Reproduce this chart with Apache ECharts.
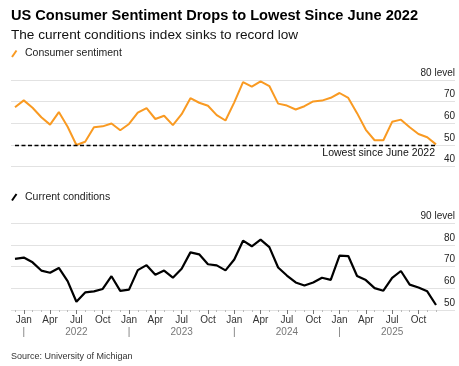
<!DOCTYPE html>
<html><head><meta charset="utf-8">
<script src="https://cdn.jsdelivr.net/npm/echarts@6/dist/echarts.min.js"></script>
<style>html,body{margin:0;padding:0;background:#fff}#c{width:459px;height:366px}</style>
</head><body><div id="c"></div>
<script>
// Plot positions (month-end dating: each reading is plotted at the start of the following month)
const months = [
  '2021-12',
  '2022-01','2022-02','2022-03','2022-04','2022-05','2022-06','2022-07','2022-08','2022-09','2022-10','2022-11','2022-12',
  '2023-01','2023-02','2023-03','2023-04','2023-05','2023-06','2023-07','2023-08','2023-09','2023-10','2023-11','2023-12',
  '2024-01','2024-02','2024-03','2024-04','2024-05','2024-06','2024-07','2024-08','2024-09','2024-10','2024-11','2024-12',
  '2025-01','2025-02','2025-03','2025-04','2025-05','2025-06','2025-07','2025-08','2025-09','2025-10','2025-11','2025-12'
];
// Consumer sentiment readings Nov 2021 .. Nov 2025
const sentiment = [
  67.4, 70.6,
  67.2, 62.8, 59.4, 65.2, 58.4, 50.0, 51.5, 58.2, 58.6, 59.9, 56.8, 59.7,
  64.9, 67.0, 62.0, 63.5, 59.2, 64.2, 71.6, 69.5, 68.1, 63.8, 61.3, 69.7,
  79.0, 76.9, 79.4, 77.2, 69.1, 68.2, 66.4, 67.9, 70.1, 70.5, 71.8, 74.0,
  71.7, 64.7, 57.0, 52.2, 52.2, 60.7, 61.7, 58.2, 55.1, 53.6, 50.3
];
// Current conditions readings Nov 2021 .. Nov 2025
const currentConditions = [
  73.6, 74.2,
  72.0, 68.2, 67.2, 69.4, 63.3, 53.8, 58.1, 58.6, 59.7, 65.6, 58.8, 59.4,
  68.4, 70.7, 66.3, 68.2, 64.9, 69.0, 76.6, 75.7, 71.1, 70.6, 68.3, 73.3,
  82.0, 79.4, 82.5, 79.0, 69.6, 65.9, 62.7, 61.3, 62.7, 64.9, 63.9, 75.1,
  74.9, 65.7, 63.8, 60.1, 58.9, 64.8, 68.0, 61.7, 60.4, 58.6, 52.3
];
const quarterLabels = {'01':'Jan','04':'Apr','07':'Jul','10':'Oct'};
const sentimentAxis = {min: 40, max: 80, step: 10, topLabel: '80 level'};
const conditionsAxis = {min: 50, max: 90, step: 10, topLabel: '90 level'};
const lowestLevel = 50;
const lowestLabel = 'Lowest since June 2022';

const ORANGE = '#f99a22';
const FONT = '"Liberation Sans", Arial, sans-serif';
const chart = echarts.init(document.getElementById('c'), null, {renderer: 'canvas'});

const wideGrid = (top) => ({left: 11, right: 4, top: top, height: 86.67});
const dataGrid = (top) => ({left: 15, right: 23, top: top, height: 86.67});

function labelAxis(gridIndex, ax) {
  return {
    gridIndex, type: 'value', position: 'right', min: ax.min, max: ax.max, interval: ax.step,
    axisLine: {show: false}, axisTick: {show: false},
    splitLine: {show: true, lineStyle: {color: '#e2e2e2', width: 1.2}},
    axisLabel: {
      inside: true, margin: 0, verticalAlign: 'bottom', padding: [0, 0, 2, 0],
      fontSize: 10, fontFamily: FONT, color: '#222',
      formatter: v => v === ax.max ? ax.topLabel : String(v)
    }
  };
}
function hiddenY(gridIndex, ax) {
  return {gridIndex, type: 'value', min: ax.min, max: ax.max, show: false};
}
const mon = m => m.slice(5);

const option = {
  animation: false,
  backgroundColor: '#fff',
  grid: [wideGrid(80), dataGrid(80), wideGrid(223.33), dataGrid(223.33)],
  xAxis: [
    {gridIndex: 0, type: 'value', min: 0, max: 1, show: false},
    {gridIndex: 1, type: 'category', data: months, boundaryGap: false, show: false},
    {gridIndex: 2, type: 'value', min: 0, max: 1, show: false},
    {gridIndex: 3, type: 'category', position: 'bottom', data: months, boundaryGap: false,
      axisLine: {show: false},
      axisTick: {show: true, interval: 0, length: 2, lineStyle: {color: '#bbb'}},
      axisLabel: {interval: (i, v) => !!quarterLabels[mon(v)], formatter: v => quarterLabels[mon(v)] || '',
        margin: 5, fontSize: 10, fontFamily: FONT, color: '#333'}},
    {gridIndex: 3, type: 'category', position: 'bottom', offset: 0, data: months, boundaryGap: false,
      axisLine: {show: false},
      axisTick: {show: true, interval: (i, v) => !!quarterLabels[mon(v)], length: 4, lineStyle: {color: '#777'}},
      axisLabel: {show: false}},
    {gridIndex: 3, type: 'category', position: 'bottom', data: months, boundaryGap: false, offset: 12,
      axisLine: {show: false}, axisTick: {show: false},
      axisLabel: {interval: (i, v) => mon(v) === '01' || mon(v) === '07',
        formatter: v => mon(v) === '01' ? '|' : (mon(v) === '07' ? v.slice(0, 4) : ''),
        margin: 5, fontSize: 10, fontFamily: FONT, color: '#777'}}
  ],
  yAxis: [
    labelAxis(0, sentimentAxis), hiddenY(1, sentimentAxis),
    labelAxis(2, conditionsAxis), hiddenY(3, conditionsAxis)
  ],
  series: [
    {type: 'line', name: 'Consumer sentiment', xAxisIndex: 1, yAxisIndex: 1, data: sentiment,
      symbol: 'none', lineStyle: {color: ORANGE, width: 2}, itemStyle: {color: ORANGE}, z: 3,
      markLine: {silent: true, symbol: 'none', data: [{yAxis: lowestLevel}],
        lineStyle: {color: '#000', type: [4, 2.5], width: 1.3},
        label: {show: true, position: 'insideEndBottom', formatter: lowestLabel, distance: [1, 3],
          fontSize: 10.5, fontFamily: FONT, color: '#111'}}},
    {type: 'line', name: 'Current conditions', xAxisIndex: 3, yAxisIndex: 3, data: currentConditions,
      symbol: 'none', lineStyle: {color: '#000', width: 2.2}, itemStyle: {color: '#000'}, z: 3}
  ],
  graphic: [
    {type: 'text', x: 11, y: 16, style: {text: 'US Consumer Sentiment Drops to Lowest Since June 2022',
      fontSize: 14.6, fontWeight: 'bold', fontFamily: FONT, fill: '#000', verticalAlign: 'middle'}},
    {type: 'text', x: 11, y: 35.5, style: {text: 'The current conditions index sinks to record low',
      fontSize: 13.6, fontFamily: FONT, fill: '#111', verticalAlign: 'middle'}},
    {type: 'line', shape: {x1: 12, y1: 57, x2: 16.5, y2: 50.5}, style: {stroke: ORANGE, lineWidth: 2}},
    {type: 'text', x: 25, y: 53.5, style: {text: 'Consumer sentiment',
      fontSize: 10.5, fontFamily: FONT, fill: '#222', verticalAlign: 'middle'}},
    {type: 'line', shape: {x1: 12, y1: 200.5, x2: 16.5, y2: 194}, style: {stroke: '#000', lineWidth: 2}},
    {type: 'text', x: 25, y: 197, style: {text: 'Current conditions',
      fontSize: 10.5, fontFamily: FONT, fill: '#222', verticalAlign: 'middle'}},
    {type: 'text', x: 11, y: 357, style: {text: 'Source: University of Michigan',
      fontSize: 9, fontFamily: FONT, fill: '#333', verticalAlign: 'middle'}}
  ]
};
chart.setOption(option);
</script>
</body></html>
